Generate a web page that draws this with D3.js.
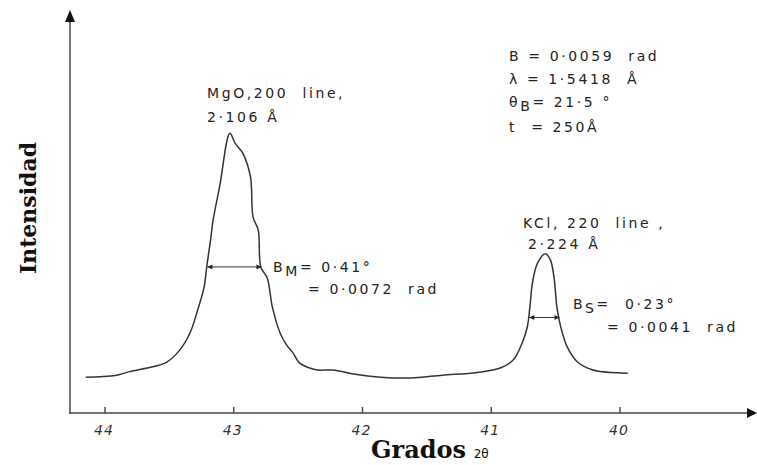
<!DOCTYPE html>
<html>
<head>
<meta charset="utf-8">
<script src="https://cdn.jsdelivr.net/npm/d3@7"></script>
<style>
  body { margin: 0; background: #fff; }
  .note { font-family: 'DejaVu Sans', sans-serif; font-size: 14px; fill: #222; letter-spacing: 2.6px; white-space: pre; }
  .tick { font-family: 'DejaVu Sans', sans-serif; font-size: 14px; fill: #333; font-style: italic; letter-spacing: 1px; }
</style>
</head>
<body>
<script>
'use strict';

const w = 757;
const h = 465;

// 2-theta (degrees) and intensity (arbitrary units)
const angle = [44.15, 43.92, 43.81, 43.63, 43.52, 43.42, 43.34, 43.28, 43.23, 43.21,
  43.18, 43.16, 43.11, 43.03, 42.99, 42.93, 42.87, 42.85, 42.81, 42.79,
  42.74, 42.70, 42.64, 42.59, 42.54, 42.49, 42.41, 42.35, 42.23, 42.07,
  41.86, 41.63, 41.38, 41.11, 40.93, 40.83, 40.76, 40.72, 40.70, 40.68,
  40.64, 40.58, 40.54, 40.51, 40.49, 40.46, 40.41, 40.33, 40.21, 39.94];
const intensity = [9.0, 9.4, 10.4, 11.6, 12.8, 15.8, 20.1, 25.9, 31.7, 36.7,
  43.5, 48.5, 56.8, 70.3, 67.8, 65.3, 59.3, 49.2, 46.0, 36.7,
  33.9, 26.6, 20.1, 17.1, 15.1, 12.6, 11.3, 10.8, 10.8, 9.8,
  9.0, 8.8, 9.5, 10.2, 11.3, 13.3, 17.6, 21.6, 26.6, 32.7,
  37.7, 40.0, 38.4, 33.4, 26.6, 21.6, 16.6, 12.8, 10.8, 10.0];
const ticks = [44, 43, 42, 41, 40];

// half-height widths: [from, to, level]
const widths = [[43.205, 42.785, 36.7], [40.705, 40.47, 24.0]];

const svg = d3.select('body').append('svg').attr('width', w).attr('height', h);

const x = d3.scaleLinear().domain([44, 40]).range([105, 620]);
const y = d3.scaleLinear().domain([0, 100]).range([413, 15]);

const defs = svg.append('defs');
defs.append('marker')
  .attr('id', 'head')
  .attr('viewBox', '0 0 10 10')
  .attr('refX', 10).attr('refY', 5)
  .attr('markerWidth', 7).attr('markerHeight', 5)
  .attr('markerUnits', 'userSpaceOnUse')
  .attr('orient', 'auto-start-reverse')
  .append('path').attr('d', 'M0,0L10,5L0,10Z').attr('fill', '#222');

/////////////////////////////////////////
// axes with arrows
svg.append('line')
  .attr('x1', 70).attr('x2', 70).attr('y1', y(0) + 1).attr('y2', 18)
  .attr('stroke', '#555').attr('stroke-width', 1.6);
svg.append('path').attr('d', 'M70,10L65,22L75,22Z').attr('fill', '#111');

svg.append('line')
  .attr('x1', 69).attr('x2', 750).attr('y1', y(0)).attr('y2', y(0))
  .attr('stroke', '#444').attr('stroke-width', 1.6);
svg.append('path').attr('d', 'M757,413L747,408L747,418Z').attr('fill', '#111');

svg.selectAll('.tickmark')
  .data(ticks)
  .enter()
  .append('line')
  .attr('x1', (d) => x(d)).attr('x2', (d) => x(d))
  .attr('y1', y(0)).attr('y2', y(0) - 6)
  .attr('stroke', '#444').attr('stroke-width', 1.4);

svg.selectAll('.tick')
  .data(ticks)
  .enter()
  .append('text')
  .attr('class', 'tick')
  .attr('x', (d) => x(d) - 1)
  .attr('y', 435)
  .attr('text-anchor', 'middle')
  .text((d) => d);

// the scan itself
const line = d3.line()
  .x((d, i) => x(angle[i]))
  .y((d) => y(d))
  .curve(d3.curveCatmullRom.alpha(0.5));

svg.append('path')
  .attr('d', line(intensity))
  .attr('fill', 'none')
  .attr('stroke', '#333')
  .attr('stroke-width', 1.5);

// width arrows
svg.selectAll('.width')
  .data(widths)
  .enter()
  .append('line')
  .attr('x1', (d) => x(d[0])).attr('x2', (d) => x(d[1]))
  .attr('y1', (d) => y(d[2])).attr('y2', (d) => y(d[2]))
  .attr('stroke', '#333').attr('stroke-width', 1)
  .attr('marker-start', 'url(#head)')
  .attr('marker-end', 'url(#head)');

// annotations
const note = (tx, ty, parts) => {
  const t = svg.append('text').attr('class', 'note').attr('x', tx).attr('y', ty);
  parts.forEach((p) => {
    const s = t.append('tspan').text(p[0]);
    if (p[1]) s.attr('dy', p[1]);
  });
};

note(207, 98, [['MgO,200  line,']]);
note(207, 122, [['2·106 Å']]);
note(509, 61, [['B = 0·0059  rad']]);
note(509, 84, [['λ = 1·5418  Å']]);
note(509, 107, [['θ'], ['B', 4], ['= 21·5 °', -4]]);
note(509, 132, [['t  = 250Å']]);
note(523, 228, [['KCl, 220  line ,']]);
note(528, 249, [['2·224 Å']]);
note(273, 272, [['B'], ['M', 4], ['= 0·41°', -4]]);
note(308, 294, [['= 0·0072  rad']]);
note(573, 309, [['B'], ['S', 4], ['=  0·23°', -4]]);
note(607, 332, [['= 0·0041  rad']]);

// axis titles
svg.append('text')
  .text('Intensidad')
  .attr('transform', 'translate(36,208) rotate(-90)')
  .attr('text-anchor', 'middle')
  .attr('font-family', 'DejaVu Serif, serif')
  .attr('font-weight', 'bold')
  .attr('font-size', 22)
  .attr('fill', '#111');

svg.append('text')
  .attr('x', 371)
  .attr('y', 458)
  .attr('font-family', 'DejaVu Serif, serif')
  .attr('fill', '#111')
  .style('white-space', 'pre')
  .call((t) => {
    t.append('tspan').text('Grados').attr('font-weight', 'bold').attr('font-size', 24);
    t.append('tspan').text('  2θ').attr('font-family', 'DejaVu Sans, sans-serif').attr('font-size', 12);
  });
</script>
</body>
</html>
